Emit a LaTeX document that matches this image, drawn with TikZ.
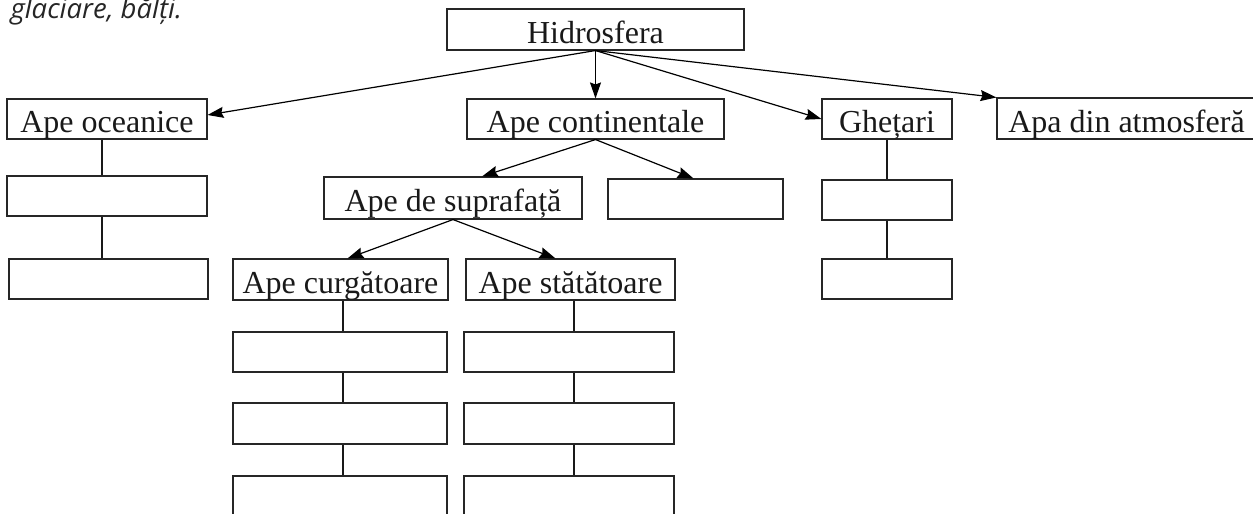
\documentclass[tikz,border=0pt]{standalone}
\usepackage{fontspec}
\setmainfont{Liberation Serif}
\newfontfamily\capfont{Open Sans}
\usetikzlibrary{arrows.meta}
\begin{document}
\begin{tikzpicture}[x=1pt,y=-1pt,
  box/.style={draw=black!85,line width=1.1pt,inner sep=0pt,minimum height=40pt,
    font=\fontsize{32}{36}\selectfont,text=black!90,text height=27pt,text depth=0pt},
  arr/.style={line width=1.2pt,-{Stealth[length=16pt,width=11pt,inset=2pt]}},
  link/.style={line width=1.6pt,black!90}]
\useasboundingbox (0,0) rectangle (1253,514);
\node[anchor=base west,font=\capfont\itshape\fontsize{27.5}{30}\selectfont,text=black!85] (cap) at (7,18) {glaciare, bălți.};
% top
\node[box,minimum width=297pt,minimum height=41pt] (h) at (595.5,29.5) {Hidrosfera};
\node[box,minimum width=200pt] (oc) at (107,119) {Ape oceanice};
\node[box,minimum width=200pt] (oc1) at (107,196) {};
\node[box,minimum width=199pt] (oc2) at (108.5,279) {};
\node[box,minimum width=257pt] (cont) at (595.5,119) {Ape continentale};
\node[box,minimum width=130pt] (gh) at (887,119) {Ghețari};
\node[box,minimum width=130pt] (gh1) at (887,200) {};
\node[box,minimum width=130pt] (gh2) at (887,279) {};
\node[box,minimum width=259pt,minimum height=41pt] (atm) at (1126.5,118.5) {Apa din atmosferă};
% middle
\node[box,minimum width=258pt,minimum height=42pt] (sup) at (453,198) {Ape de suprafață};
\node[box,minimum width=175pt] (e1) at (695.5,199) {};
\node[box,minimum width=215pt,minimum height=41pt] (cu) at (340.5,279.5) {Ape curgătoare};
\node[box,minimum width=209pt,minimum height=41pt] (st) at (570.5,279.5) {Ape stătătoare};
\node[box,minimum width=214pt] (cu1) at (340,352) {};
\node[box,minimum width=214pt,minimum height=41pt] (cu2) at (340,423.5) {};
\node[box,minimum width=214pt] (cu3) at (340,496) {};
\node[box,minimum width=210pt] (st1) at (569,352) {};
\node[box,minimum width=210pt,minimum height=41pt] (st2) at (569,423.5) {};
\node[box,minimum width=210pt] (st3) at (569,496) {};
% arrows
\draw[arr] (h.south) -- ([yshift=4pt]oc.east);
\draw[arr] (h.south) -- (cont.north);
\draw[arr] (h.south) -- (gh.west);
\draw[arr] (h.south) -- (atm.north west);
\draw[arr] (cont.south) -- ([xshift=29pt]sup.north);
\draw[arr] (cont.south) -- ([xshift=-2pt]e1.north);
\draw[arr] (sup.south) -- ([xshift=7pt]cu.north);
\draw[arr] (sup.south) -- ([xshift=-15pt]st.north);
% links
\draw[link] ([xshift=-5pt]oc.south) -- ([xshift=-5pt]oc1.north);
\draw[link] ([xshift=-5pt]oc1.south) -- ([xshift=-6.5pt]oc2.north);
\draw[link] (gh.south) -- (gh1.north);
\draw[link] (gh1.south) -- (gh2.north);
\draw[link] ([xshift=2.5pt]cu.south) -- ([xshift=3pt]cu1.north);
\draw[link] ([xshift=3pt]cu1.south) -- ([xshift=3pt]cu2.north);
\draw[link] ([xshift=3pt]cu2.south) -- ([xshift=3pt]cu3.north);
\draw[link] ([xshift=3.5pt]st.south) -- ([xshift=5pt]st1.north);
\draw[link] ([xshift=5pt]st1.south) -- ([xshift=5pt]st2.north);
\draw[link] ([xshift=5pt]st2.south) -- ([xshift=5pt]st3.north);
\end{tikzpicture}
\end{document}
